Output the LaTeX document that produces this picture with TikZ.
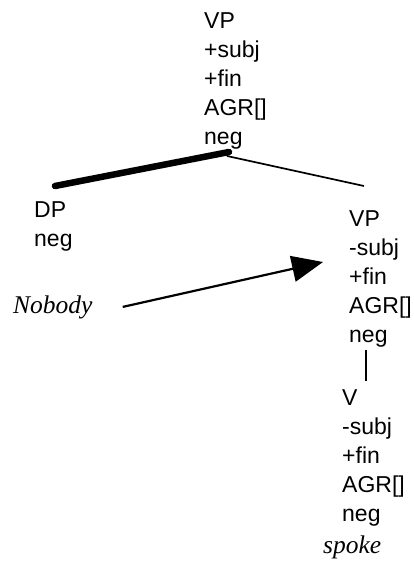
\documentclass[tikz,border=0pt]{standalone}
\usepackage{fontspec}
\setmainfont{Liberation Sans}
\newfontfamily\exfont{Liberation Serif}
\usetikzlibrary{arrows.meta}

\tikzset{
	feat/.style={anchor=base west, inner sep=0pt, font=\fontsize{23}{29}\selectfont},
	word/.style={anchor=base west, inner sep=0pt, font=\exfont\itshape\fontsize{25.5}{30}\selectfont},
	branch/.style={line width=1.7pt},
	headbranch/.style={line width=6.5pt, line cap=round},
	movearrow/.style={line width=2.2pt, -{Triangle[length=31pt, width=26pt]}},
}
\newcommand{\featstack}[1]{\begin{tabular}[t]{@{}l@{}}#1\end{tabular}}

\begin{document}
\begin{tikzpicture}[x=1pt, y=-1pt]
			\useasboundingbox (0,0) rectangle (414,568);
			\node[feat] (top) at (204,28) {\featstack{VP\\+subj\\+fin\\AGR[]\\neg}};
			\node[feat] (dp) at (34,217) {\featstack{DP\\neg}};
			\node[feat] (vp) at (349,226) {\featstack{VP\\-subj\\+fin\\AGR[]\\neg}};
			\node[feat] (v) at (342,405) {\featstack{V\\-subj\\+fin\\AGR[]\\neg}};
			\node[word] (nobody) at (13,313) {Nobody};
			\node[word] (spoke) at (323,553) {spoke};
			
			\coordinate (top-foot) at (227,156);
			\coordinate (dp-head) at (55,186);
			\coordinate (vp-head) at (364,186);
			\coordinate (vp-foot) at (366,350);
			\coordinate (v-head) at (366,381);
			\coordinate (vp-in) at (323,262);
			
			\draw[headbranch] (dp-head) -- ([shift={(2pt,4pt)}]top-foot);
			\draw[branch] (top-foot) -- (vp-head);
			\draw[branch] (vp-foot) -- (v-head);
			\draw[movearrow] ([xshift=30pt]nobody.east) -- (vp-in);
		\end{tikzpicture}
\end{document}
